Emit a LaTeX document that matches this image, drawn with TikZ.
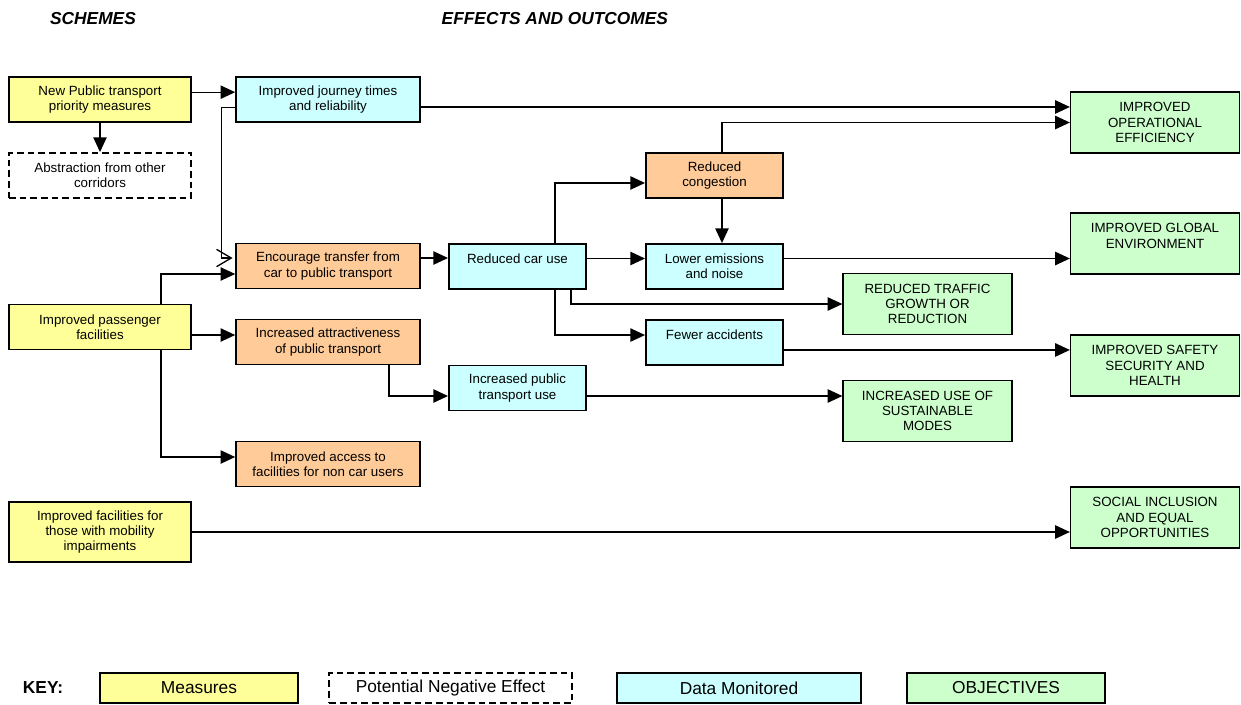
\documentclass[tikz,border=0pt]{standalone}
\usepackage{fontspec}
\setmainfont{Liberation Sans}
\usepackage{xcolor}
\usepackage{tikz}
\usetikzlibrary{arrows.meta, positioning}

\definecolor{measurefill}{HTML}{FFFF99}
\definecolor{monitorfill}{HTML}{CCFFFF}
\definecolor{effectfill}{HTML}{FFCC99}
\definecolor{objectivefill}{HTML}{CCFFCC}

\tikzset{
    box/.style={draw, line width=1.2pt, align=center, inner sep=2pt,
        font=\fontsize{10}{11.5}\selectfont},
    measure/.style={box, fill=measurefill, minimum width=136.5pt, minimum height=34pt},
    negeffect/.style={box, dash pattern=on 5pt off 3pt, minimum width=136.5pt, minimum height=34pt},
    effect/.style={box, fill=effectfill, minimum height=34pt},
    monitor/.style={box, fill=monitorfill, minimum height=34pt},
    objective/.style={box, fill=objectivefill, minimum width=126.5pt, minimum height=46pt},
    wide/.style={minimum width=138pt},
    narrow/.style={minimum width=103pt},
    keybox/.style={box, minimum height=22.5pt, font=\fontsize{13}{15}\selectfont},
    link/.style={line width=1pt, -{Triangle[length=11pt, width=10pt]}},
    heading/.style={font=\fontsize{13}{15}\selectfont\bfseries\itshape}
}

\begin{document}
\begin{tikzpicture}[x=0.75pt, y=-0.75pt]
    \useasboundingbox (0,0) rectangle (1241,704);

    % Headings
    \node[heading] (schemes) at (93,19) {SCHEMES};
    \node[heading, anchor=west] (effects) at (437,19) {EFFECTS AND OUTCOMES};

    % Schemes
    \node[measure] (newpt) at (100,99.5) {New Public transport\\priority measures};
    \node[negeffect] (abstract) at (100,175.5) {Abstraction from other\\corridors};
    \node[measure] (passenger) at (100,327) {Improved passenger\\facilities};
    \node[measure, minimum height=45pt] (mobility) at (100,532) {Improved facilities for\\those with mobility\\impairments};

    % Effects
    \node[monitor, wide] (journey) at (328,99.5) {Improved journey times\\and reliability};
    \node[effect, wide] (transfer) at (328,266) {Encourage transfer from\\car to public transport};
    \node[effect, wide] (attract) at (328,342) {Increased attractiveness\\of public transport};
    \node[effect, wide] (access) at (328,464) {Improved access to\\facilities for non car users};
    \node[monitor, narrow] (caruse) at (517.5,266.5) {Reduced car use\\\mbox{}};
    \node[monitor, narrow] (ptuse) at (517.5,388) {Increased public\\transport use};
    \node[effect, narrow] (congestion) at (714.5,175.5) {Reduced\\congestion};
    \node[monitor, narrow] (emissions) at (714.5,266.5) {Lower emissions\\and noise};
    \node[monitor, narrow] (accidents) at (714.5,342.5) {Fewer accidents\\\mbox{}};

    % Objectives
    \node[objective] (traffic) at (927.5,304) {REDUCED TRAFFIC\\GROWTH OR\\REDUCTION};
    \node[objective] (sustainable) at (927.5,411) {INCREASED USE OF\\SUSTAINABLE\\MODES};
    \node[objective] (operational) at (1155,122.5) {IMPROVED\\OPERATIONAL\\EFFICIENCY};
    \node[objective] (global) at (1155,243.5) {IMPROVED GLOBAL\\ENVIRONMENT\\\mbox{}};
    \node[objective] (safety) at (1155,365.5) {IMPROVED SAFETY\\SECURITY AND\\HEALTH};
    \node[objective] (social) at (1155,517.5) {SOCIAL INCLUSION\\AND EQUAL\\OPPORTUNITIES};

    % Links from the schemes
    \draw[link] ([yshift=5.5pt]newpt.east) -- ([yshift=5.5pt]newpt.east -| journey.west);
    \draw[link] (newpt) -- (abstract);
    \draw[line width=1pt, -{Straight Barb[length=11pt, width=13pt]}, shorten >=2pt]
        ([yshift=-6pt]journey.west) -- ++(-10.5pt,0) |- ([yshift=6pt]transfer.west);
    \draw[link] ([xshift=45.75pt]passenger.north) |- ([yshift=-6pt]transfer.west);
    \draw[link] ([yshift=-6pt]passenger.east) -- ([yshift=-6pt]passenger.east -| attract.west);
    \draw[link] ([xshift=45.75pt]passenger.south) |- ([yshift=5.25pt]access.west);
    \draw[link] (mobility.east) -- (mobility.east -| social.west);

    % Links between effects
    \draw[link] ([yshift=6pt]transfer.east) -- ([yshift=6pt]transfer.east -| caruse.west);
    \draw[link] ([xshift=28pt]caruse.north) |- ([yshift=-5.6pt]congestion.west);
    \draw[link] ([xshift=5.6pt]congestion.south) -- ([xshift=5.6pt]congestion.south |- emissions.north);
    \draw[link] ([xshift=5.6pt]congestion.north) |- (operational.west);
    \draw[link] ([yshift=-5.6pt]journey.east) -- ([yshift=-5.6pt]journey.east -| operational.west);
    \draw[link] ([yshift=6pt]caruse.east) -- ([yshift=6pt]caruse.east -| emissions.west);
    \draw[link] ([yshift=6pt]emissions.east) -- ([yshift=6pt]emissions.east -| global.west);
    \draw[link] ([xshift=40pt]caruse.south) |- (traffic.west);
    \draw[link] ([xshift=28pt]caruse.south) |- ([yshift=5.6pt]accidents.west);
    \draw[link] ([yshift=-5.6pt]accidents.east) -- ([yshift=-5.6pt]accidents.east -| safety.west);
    \draw[link] ([xshift=45.75pt]attract.south) |- ([yshift=-6pt]ptuse.west);
    \draw[link] ([yshift=-6pt]ptuse.east) -- ([yshift=-6pt]ptuse.east -| sustainable.west);

    % Key
    \node[font=\fontsize{13}{15}\selectfont\bfseries] (key) at (43,688) {KEY:};
    \node[keybox, fill=measurefill, minimum width=148.5pt] (keymeasure) at (199,688) {Measures};
    \node[keybox, dash pattern=on 5pt off 3pt, minimum width=182pt] (keyneg) at (450.5,688) {Potential Negative Effect};
    \node[keybox, fill=monitorfill, minimum width=183pt] (keymonitor) at (739,688) {Data Monitored};
    \node[keybox, fill=objectivefill, minimum width=148.5pt] (keyobjective) at (1006,688) {OBJECTIVES};
\end{tikzpicture}
\end{document}
